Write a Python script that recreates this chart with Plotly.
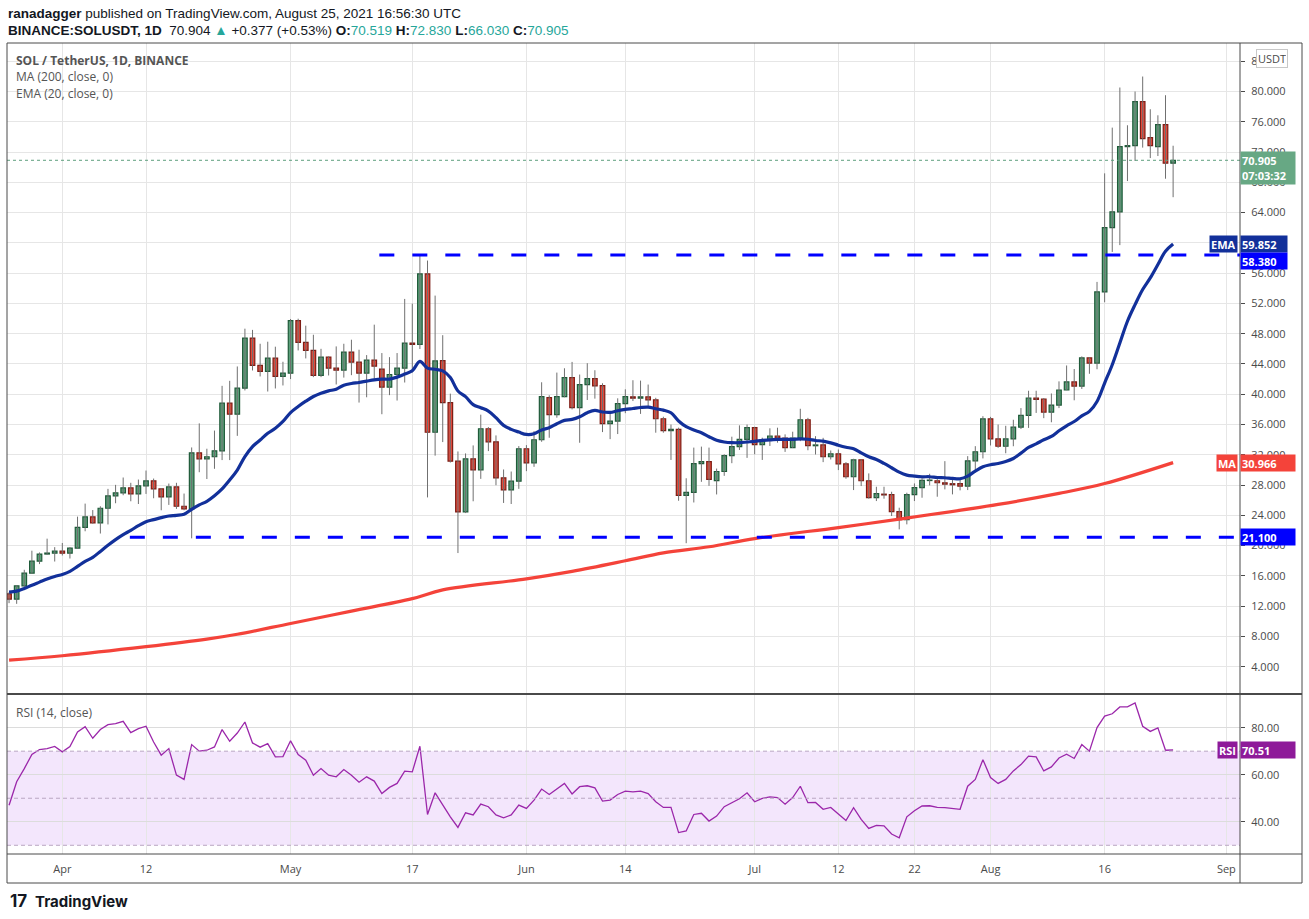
import pandas as pd
import plotly.graph_objects as go
from plotly.subplots import make_subplots

W, H = 1309, 919

# daily candles, 25 Mar .. 25 Aug 2021
dates = pd.date_range("2021-03-25", "2021-08-25", freq="D")

opens = [
    13.63, 12.93, 14.69, 16.37, 17.96, 18.89, 19.02,
    19.28, 19.00, 19.68, 22.42, 23.79, 23.00, 24.94, 26.57, 26.97, 27.63,
    26.83, 27.90, 28.56, 27.50, 26.44, 27.76, 25.20, 24.85, 32.26, 31.47,
    31.74, 32.53, 38.82, 37.36, 40.80, 47.42, 43.80, 43.01, 44.77, 42.35,
    42.79, 49.72, 46.85, 45.79, 42.48, 44.91, 43.45, 43.19, 45.57, 44.25,
    42.79, 44.51, 43.32, 40.94, 42.61, 43.45, 46.76, 46.60, 55.90, 34.98,
    44.45, 38.89, 31.16, 24.45, 31.47, 30.01, 35.44, 33.72, 28.95, 27.36, 28.51,
    32.80, 30.94, 33.99, 39.55, 37.30, 39.68, 42.20, 38.23, 41.27, 42.07,
    41.14, 36.11, 36.46, 38.75, 39.66, 39.48, 39.66, 39.26, 36.76, 35.18,
    35.36, 26.63, 27.03, 30.84, 31.11, 28.60, 29.79, 31.90, 33.08, 34.04,
    35.58, 33.34, 33.96, 34.48, 34.22, 32.95, 34.22, 36.63, 33.20, 33.30,
    31.74, 32.13, 30.81, 29.10, 31.34, 28.57, 26.33, 26.80, 26.73, 24.48,
    23.43, 26.73, 27.65, 28.60, 28.57, 28.31, 28.18, 28.18, 27.87, 31.21, 32.40,
    36.75, 34.11, 33.13, 34.10, 35.65, 37.20, 39.50, 39.37, 37.64, 38.57,
    40.56, 41.62, 41.08, 44.80, 44.12, 53.52, 62.00, 64.10, 72.71, 72.84,
    78.66, 73.90, 72.70, 75.62, 70.519,
]
highs = [
    13.85, 14.80, 16.81, 19.33, 19.10, 20.92, 19.80,
    20.35, 19.80, 23.83, 25.55, 24.70, 25.20, 27.50, 28.03, 29.00, 28.30,
    28.73, 29.92, 28.86, 27.60, 28.20, 28.30, 26.88, 32.97, 36.15, 32.80,
    35.20, 41.11, 41.77, 43.67, 48.66, 48.50, 46.67, 46.94, 46.28, 44.29,
    49.94, 49.98, 49.06, 47.86, 46.00, 45.00, 46.32, 46.67, 47.20, 45.88,
    45.17, 49.19, 45.44, 44.90, 45.44, 52.59, 51.97, 58.46, 57.66, 53.03,
    47.80, 40.08, 32.44, 32.18, 33.24, 37.30, 35.66, 34.56, 30.06, 29.79, 33.15,
    33.28, 35.13, 41.58, 39.86, 42.86, 43.43, 44.27, 42.60, 44.10, 43.17,
    41.45, 37.78, 39.46, 40.65, 41.85, 41.80, 41.28, 39.53, 37.03, 36.00,
    35.58, 28.90, 32.95, 33.08, 32.95, 30.18, 32.07, 34.39, 35.89, 36.00,
    35.70, 34.26, 35.50, 35.58, 34.70, 35.05, 38.08, 36.88, 34.46, 34.24,
    32.57, 32.70, 31.03, 31.47, 31.38, 29.54, 27.78, 27.78, 27.12, 25.01,
    26.99, 28.22, 29.19, 29.49, 29.19, 31.16, 28.97, 28.75, 31.82, 33.14, 37.10,
    37.01, 36.00, 35.83, 36.63, 38.17, 40.46, 40.46, 39.50, 40.10, 41.70,
    43.80, 43.33, 45.00, 44.90, 54.84, 69.18, 75.22, 80.52, 75.53, 79.99,
    81.97, 77.65, 76.85, 79.50, 72.83,
]
lows = [
    12.40, 12.31, 14.55, 16.28, 17.56, 18.80, 17.90,
    18.70, 18.30, 19.60, 21.90, 22.90, 21.60, 22.80, 25.60, 26.66, 25.86,
    25.50, 26.83, 26.26, 24.67, 25.38, 24.85, 24.67, 20.96, 29.70, 28.80,
    30.15, 31.30, 31.30, 34.50, 40.50, 43.14, 42.35, 40.36, 40.76, 41.16,
    42.00, 45.79, 44.73, 42.26, 42.26, 42.48, 41.29, 42.20, 42.52, 38.90,
    39.60, 42.00, 37.36, 39.88, 39.17, 41.55, 42.88, 45.97, 26.37, 31.89,
    33.68, 30.98, 19.02, 24.30, 25.86, 28.82, 32.49, 27.98, 25.64, 25.50, 27.50,
    29.84, 30.41, 33.72, 34.25, 36.90, 39.60, 38.00, 33.59, 39.24, 39.42,
    35.00, 34.07, 34.74, 37.50, 39.10, 37.40, 38.20, 34.92, 34.92, 31.32,
    25.93, 20.32, 25.70, 28.43, 27.90, 26.76, 29.22, 30.89, 32.64, 31.59,
    32.07, 31.32, 33.17, 33.60, 32.38, 32.90, 33.80, 32.60, 32.04, 31.03,
    31.38, 29.98, 28.84, 27.34, 27.87, 26.20, 25.89, 26.20, 23.91, 22.15,
    22.81, 25.89, 26.33, 27.96, 26.46, 27.43, 26.77, 27.30, 27.34, 29.85, 31.52,
    33.23, 32.92, 32.20, 33.13, 35.40, 35.55, 37.53, 36.84, 36.30, 38.17,
    40.54, 39.20, 40.70, 42.70, 43.30, 52.15, 58.80, 59.70, 68.16, 70.81,
    72.58, 71.20, 71.47, 68.47, 66.03,
]
closes = [
    12.93, 14.69, 16.37, 17.96, 18.89, 19.02, 19.28,
    19.00, 19.68, 22.42, 23.79, 23.00, 24.94, 26.57, 26.97, 27.63, 26.83,
    27.90, 28.56, 27.50, 26.44, 27.76, 25.20, 24.85, 32.26, 31.47, 31.74,
    32.53, 38.82, 37.36, 40.80, 47.42, 43.80, 43.01, 44.77, 42.35, 42.79,
    49.72, 46.85, 45.79, 42.48, 44.91, 43.45, 43.19, 45.57, 44.25, 42.79,
    44.51, 43.72, 40.94, 42.61, 43.45, 46.76, 46.60, 55.90, 34.98, 44.40,
    38.89, 31.16, 24.45, 31.47, 30.01, 35.44, 33.72, 28.95, 27.36, 28.51, 32.80,
    30.94, 33.99, 39.68, 37.30, 39.68, 42.20, 38.23, 41.27, 42.07, 41.10,
    36.11, 36.46, 38.75, 39.68, 39.48, 39.66, 39.26, 36.76, 35.18, 35.36,
    26.63, 27.03, 30.84, 31.11, 28.74, 29.79, 31.90, 33.08, 34.04, 35.58,
    33.34, 33.96, 34.48, 34.22, 32.95, 34.22, 36.63, 33.20, 33.30, 31.74,
    32.13, 30.81, 29.10, 31.34, 28.57, 26.33, 26.86, 26.70, 24.48, 23.43,
    26.73, 27.65, 28.62, 28.66, 28.31, 28.13, 28.04, 27.87, 31.21, 32.40, 36.75,
    34.11, 33.13, 34.10, 35.65, 37.20, 39.50, 39.33, 37.64, 38.57, 40.56,
    41.62, 41.08, 44.80, 44.12, 53.52, 62.00, 64.10, 72.71, 72.84, 78.66,
    73.77, 72.84, 75.62, 70.53, 70.905,
]

# EMA 20 (one value per candle)
ema20 = [
    13.85, 13.99, 14.34, 14.78, 15.18, 15.58, 15.93,
    16.20, 16.60, 17.25, 17.92, 18.45, 19.24, 20.04, 20.79, 21.45, 22.02,
    22.64, 23.17, 23.43, 23.70, 23.92, 24.00, 24.14, 24.80, 25.38, 25.86,
    26.60, 27.50, 28.67, 29.99, 31.76, 33.08, 33.96, 34.85, 35.50, 36.40,
    37.58, 38.38, 39.08, 39.70, 40.14, 40.45, 40.67, 41.20, 41.42, 41.55,
    41.73, 41.90, 41.99, 42.00, 42.26, 42.66, 43.10, 44.33, 43.45, 43.30,
    43.08, 42.20, 40.43, 39.68, 38.62, 38.22, 37.78, 36.90, 35.89, 35.36, 35.00,
    34.69, 34.78, 35.27, 35.58, 36.10, 36.55, 36.68, 37.03, 37.56, 37.87,
    37.65, 37.60, 37.82, 38.00, 38.12, 38.25, 38.30, 38.08, 37.90, 37.55,
    36.46, 35.71, 35.27, 34.92, 34.39, 33.91, 33.69, 33.60, 33.60, 33.69,
    33.78, 33.91, 33.96, 34.04, 34.04, 34.04, 34.10, 34.05, 33.89, 33.80,
    33.58, 33.27, 33.00, 32.79, 32.26, 31.74, 31.38, 30.86, 30.29, 29.71,
    29.32, 29.19, 29.10, 29.10, 29.00, 28.97, 28.88, 28.84, 29.19, 29.85, 30.42,
    30.68, 30.85, 31.11, 31.51, 32.22, 32.97, 33.45, 33.98, 34.42, 35.17,
    35.83, 36.40, 37.15, 37.73, 39.05, 41.48, 43.90, 46.77, 49.64, 51.84,
    53.83, 55.37, 57.14, 58.90, 59.852,
]

# MA 200, read at a handful of dates
ma_dates = ["2021-03-25", "2021-04-01", "2021-04-12", "2021-04-20", "2021-04-24",
            "2021-05-01", "2021-05-09", "2021-05-17", "2021-05-21", "2021-06-01",
            "2021-06-07", "2021-06-14", "2021-06-19", "2021-06-25", "2021-07-01",
            "2021-07-12", "2021-07-20", "2021-08-02", "2021-08-10", "2021-08-16",
            "2021-08-25"]
ma200 = [4.88, 5.45, 6.65, 7.65, 8.29, 9.72, 11.35, 13.00, 14.15, 15.61,
         16.60, 18.00, 19.05, 19.85, 20.93, 22.39, 23.50, 25.45, 26.90, 28.20,
         30.966]

rsi = [
    47.0, 57.0, 62.6, 68.6, 70.7, 71.1, 72.0,
    69.7, 72.0, 78.2, 80.4, 75.5, 79.2, 81.3, 81.7, 82.7, 77.9,
    79.6, 80.6, 73.9, 68.3, 71.1, 59.8, 58.0, 72.8, 70.0, 70.4,
    71.8, 79.2, 74.2, 77.7, 82.4, 73.5, 71.7, 73.2, 67.6, 67.7,
    74.4, 68.6, 66.2, 59.8, 62.6, 59.8, 59.1, 62.2, 59.8, 56.8,
    59.1, 57.3, 52.0, 54.6, 56.3, 61.5, 61.2, 72.1, 43.1, 52.3,
    47.1, 42.1, 37.6, 43.8, 42.9, 47.5, 46.4, 42.9, 41.7, 42.9, 47.1,
    45.7, 49.2, 53.9, 51.6, 53.9, 56.3, 51.8, 54.9, 55.3, 54.4,
    48.8, 49.2, 51.6, 53.0, 52.7, 53.0, 52.0, 48.5, 46.1, 46.1,
    35.4, 36.1, 43.1, 43.6, 40.3, 42.4, 46.4, 48.1, 49.8, 52.3,
    48.5, 49.9, 50.6, 50.3, 47.5, 50.3, 55.1, 48.1, 48.2, 45.3,
    46.1, 43.3, 40.5, 46.0, 41.0, 37.2, 38.5, 38.3, 34.8, 33.2,
    42.1, 44.7, 46.7, 46.8, 46.1, 46.0, 45.7, 45.3, 55.1, 58.0, 66.4,
    58.8, 56.3, 58.0, 61.6, 64.3, 67.9, 67.6, 61.6, 63.3, 67.1,
    68.7, 66.9, 72.8, 70.0, 80.0, 84.9, 85.9, 88.8, 88.8, 90.5,
    80.6, 78.4, 79.9, 70.4, 70.51,
]

tick_dates = ["2021-04-01", "2021-04-12", "2021-05-01", "2021-05-17", "2021-06-01",
              "2021-06-14", "2021-07-01", "2021-07-12", "2021-07-22", "2021-08-01",
              "2021-08-16", "2021-09-01"]
tick_text = ["Apr", "12", "May", "17", "Jun", "14", "Jul", "12", "22", "Aug", "16", "Sep"]

resistance = 58.38
support = 21.10
last_price = 70.905
ema_last = 59.852
ma_last = 30.966
rsi_last = 70.51

x_range = ["2021-03-24 17:30", "2021-09-02 19:00"]

UP, UP_LINE = "#5a9f79", "#1f5a39"
DN, DN_LINE = "#e0493b", "#7d1d15"
WICK = "#707070"
EMA_C = "#12309a"
MA_C = "#f4433a"
LEVEL_C = "#0000ff"
RSI_C = "#9b27aa"
TXT = "#4a4a4a"


def px(p):
    return p / W


def py(p):
    return 1 - p / H


fig = make_subplots(rows=2, cols=1, shared_xaxes=True, vertical_spacing=0)

# wicks
wx, wy = [], []
for d, lo, hi in zip(dates, lows, highs):
    wx += [d, d, None]
    wy += [lo, hi, None]
fig.add_trace(go.Scatter(x=wx, y=wy, mode="lines", line=dict(color=WICK, width=1),
                         hoverinfo="skip"), row=1, col=1)

# bodies
up = [c >= o for o, c in zip(opens, closes)]
fig.add_trace(go.Bar(
    x=dates, y=[c - o for o, c in zip(opens, closes)], base=opens,
    width=0.6 * 86400000,
    marker=dict(color=[UP if u else DN for u in up],
                line=dict(color=[UP_LINE if u else DN_LINE for u in up], width=1.2)),
    hoverinfo="skip"), row=1, col=1)

fig.add_trace(go.Scatter(x=ma_dates, y=ma200, mode="lines",
                         line=dict(color=MA_C, width=3.2, shape="spline")), row=1, col=1)
fig.add_trace(go.Scatter(x=dates, y=ema20, mode="lines",
                         line=dict(color=EMA_C, width=3.2, shape="spline")), row=1, col=1)

fig.add_trace(go.Scatter(x=dates, y=rsi, mode="lines",
                         line=dict(color=RSI_C, width=1.3)), row=2, col=1)

# price levels
for lvl, start in [(resistance, "2021-05-12 16:00"), (support, "2021-04-09 21:00")]:
    fig.add_shape(type="line", xref="x", yref="y", x0=start, x1=x_range[1], y0=lvl, y1=lvl,
                  line=dict(color=LEVEL_C, width=3, dash="15px,18px"))
fig.add_shape(type="line", xref="x", yref="y", x0=x_range[0], x1=x_range[1],
              y0=last_price, y1=last_price, line=dict(color="#5e9e7e", width=1, dash="dot"))

# rsi band + levels
fig.add_shape(type="rect", xref="x2", yref="y2", x0=x_range[0], x1=x_range[1], y0=30, y1=70,
              fillcolor="#f3e6fc", line=dict(width=0), layer="below")
for lvl in [70, 50, 30]:
    fig.add_shape(type="line", xref="x2", yref="y2", x0=x_range[0], x1=x_range[1], y0=lvl, y1=lvl,
                  line=dict(color="#b9a6c2", width=1, dash="4px,3px"))

# frame
frame = dict(color=TXT, width=1)
fig.add_shape(type="rect", xref="paper", yref="paper", x0=px(7), x1=px(1302),
              y0=py(883), y1=py(43), line=frame)
fig.add_shape(type="line", xref="paper", yref="paper", x0=px(1240), x1=px(1240),
              y0=py(883), y1=py(43), line=frame)
fig.add_shape(type="line", xref="paper", yref="paper", x0=px(7), x1=px(1302),
              y0=py(694), y1=py(694), line=dict(color=TXT, width=2))
fig.add_shape(type="line", xref="paper", yref="paper", x0=px(7), x1=px(1302),
              y0=py(854), y1=py(854), line=frame)

grid = "#e6e6e6"
axis_font = dict(family="Open Sans", size=11, color=TXT)
fig.update_xaxes(type="date", range=x_range, tickvals=tick_dates, ticktext=tick_text,
                 showgrid=True, gridcolor=grid, gridwidth=1, zeroline=False, showline=False,
                 ticks="", tickfont=axis_font)
fig.update_layout(
    xaxis=dict(domain=[px(7), px(1240)], showticklabels=False, rangeslider=dict(visible=False)),
    xaxis2=dict(domain=[px(7), px(1240)], showticklabels=True, ticklabelstandoff=7),
    yaxis=dict(domain=[py(694), py(43)], side="right", range=[0.4, 86.4],
               tickvals=list(range(4, 88, 4)), tickformat=".3f", showgrid=True,
               gridcolor=grid, zeroline=False, ticks="outside", ticklen=4, tickcolor=TXT,
               tickfont=axis_font, ticklabelstandoff=4),
    yaxis2=dict(domain=[py(854), py(694)], side="right", range=[26.3, 94.3],
                tickvals=[40, 60, 80], tickformat=".2f", showgrid=True, gridcolor="#dcdcdc",
                zeroline=False, ticks="outside", ticklen=4, tickcolor=TXT, tickfont=axis_font,
                ticklabelstandoff=4),
    width=W, height=H, margin=dict(l=0, r=0, t=0, b=0),
    paper_bgcolor="white", plot_bgcolor="white", showlegend=False,
    barmode="overlay", font=dict(family="Open Sans", color=TXT),
)

ann = []
TEAL = "#26a69a"
hdr = dict(family="Liberation Sans, Arial", size=13.5, color="#131722")
ann.append(dict(x=px(6), y=py(13), text="<b>ranadagger</b> published on TradingView.com, "
                "August 25, 2021 16:56:30 UTC", font=hdr))
ann.append(dict(x=px(6), y=py(30), font=hdr, text=(
    "<b>BINANCE:SOLUSDT, 1D</b>  70.904 <span style='color:%s'>▲</span> +0.377 (+0.53%%) "
    "<b>O:</b><span style='color:%s'>70.519</span> <b>H:</b><span style='color:%s'>72.830</span> "
    "<b>L:</b><span style='color:%s'>66.030</span> <b>C:</b><span style='color:%s'>70.905</span>"
    % (TEAL, TEAL, TEAL, TEAL, TEAL))))
leg = dict(family="Open Sans", size=12, color="#555555")
ann.append(dict(x=px(14), y=py(60), text="<b>SOL / TetherUS, 1D, BINANCE</b>", font=leg))
ann.append(dict(x=px(14), y=py(77), text="MA (200, close, 0)", font=leg))
ann.append(dict(x=px(14), y=py(94), text="EMA (20, close, 0)", font=leg))
ann.append(dict(x=px(14), y=py(712), text="RSI (14, close)", font=leg))
ann.append(dict(x=px(8), y=py(901), text="<b>17</b>", font=dict(family="Inter", size=17, color="#131722")))
ann.append(dict(x=px(33), y=py(901), text="<b>TradingView</b>",
                font=dict(family="Inter", size=15, color="#131722")))
for a in ann:
    a.update(xref="paper", yref="paper", xanchor="left", yanchor="middle", showarrow=False)
    fig.add_annotation(**a)

lab = dict(family="Open Sans", size=11, color="white")


def axis_label(text, y, color, yref="y", yanchor="middle", yshift=0, width=52, height=None):
    fig.add_annotation(x=px(1240), y=y, xref="paper", yref=yref, xanchor="left",
                       yanchor=yanchor, yshift=yshift, text="<b>%s</b>" % text, showarrow=False,
                       bgcolor=color, font=lab, width=width, height=height, align="left",
                       borderpad=1)


def tag(text, y, color, yref="y"):
    fig.add_annotation(x=px(1238), y=y, xref="paper", yref=yref, xanchor="right",
                       yanchor="middle", text="<b>%s</b>" % text, showarrow=False,
                       bgcolor=color, font=lab, height=14, borderpad=1)


axis_label("%.3f<br>07:03:32" % last_price, last_price, "#67a884", yanchor="top", yshift=9,
           height=30)
tag("EMA", ema_last, EMA_C)
axis_label("%.3f" % ema_last, ema_last, EMA_C, width=44, height=14)
# TradingView nudges the level label down so it does not hide the EMA one
axis_label("%.3f" % resistance, resistance, LEVEL_C, width=44, height=14, yshift=-6)
tag("MA", ma_last, MA_C)
axis_label("%.3f" % ma_last, ma_last, MA_C, height=14)
axis_label("%.3f" % support, support, LEVEL_C, height=14)
tag("RSI", rsi_last, "#8e1a99", yref="y2")
axis_label("%.2f" % rsi_last, rsi_last, "#8e1a99", yref="y2", height=14)

fig.add_annotation(x=px(1272), y=py(59), xref="paper", yref="paper", xanchor="center",
                   yanchor="middle", text="USDT", showarrow=False, bgcolor="white",
                   bordercolor="#c8c8c8", borderwidth=1, borderpad=1, width=28,
                   font=dict(family="Open Sans", size=11, color=TXT))

fig.write_html("out.html", config={"displayModeBar": False},
               post_script="document.body.style.margin='0';")
